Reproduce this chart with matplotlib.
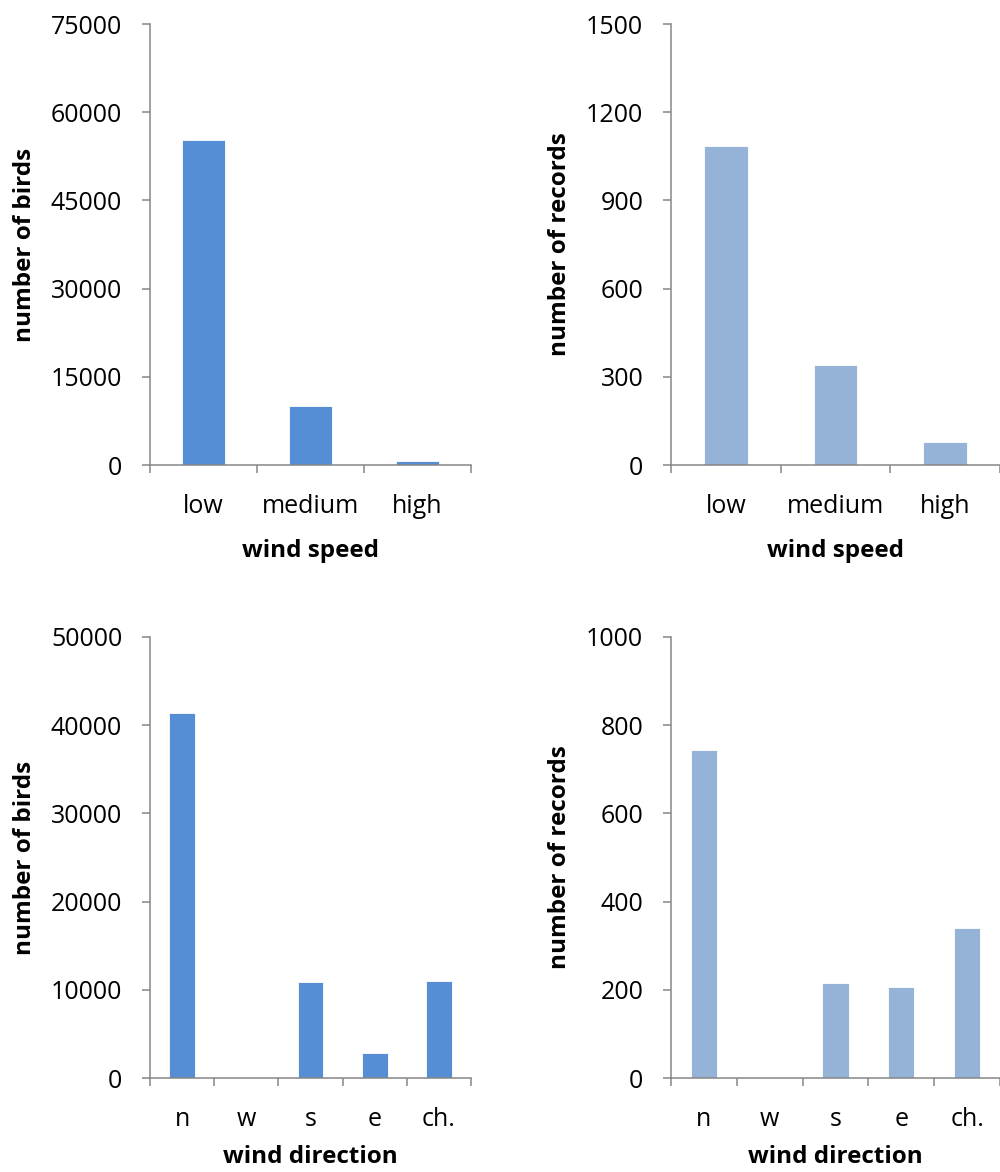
import matplotlib.pyplot as plt
from matplotlib.ticker import FixedLocator

plt.rcParams['font.family'] = ['Open Sans', 'DejaVu Sans']

speed_cats = ["low", "medium", "high"]
speed_birds = [55300, 10000, 750]
speed_records = [1086, 339, 78]

dir_cats = ["n", "w", "s", "e", "ch."]
dir_birds = [41400, 0, 10900, 2800, 11000]
dir_records = [743, 0, 216, 207, 339]

dark_blue = "#558ED5"
light_blue = "#95B3D7"
axis_gray = "#868686"

fig = plt.figure(figsize=(10, 11.72), dpi=100)


def bar_panel(rect, cats, vals, color, ymax, ystep, ylabel, xlabel, xpad):
    ax = fig.add_axes(rect)
    x = range(len(cats))
    ax.bar(x, vals, width=0.4, color=color, edgecolor="white", linewidth=0.6)
    ax.set_xlim(-0.5, len(cats) - 0.5)
    ax.set_ylim(0, ymax)
    ax.set_yticks(range(0, ymax + 1, ystep))
    ax.set_xticks(list(x))
    ax.set_xticklabels(cats)
    # category boundary ticks like Excel
    ax.xaxis.set_minor_locator(FixedLocator([i - 0.5 for i in range(len(cats) + 1)]))
    ax.tick_params(axis="x", which="major", length=0, pad=21, labelsize=18)
    ax.tick_params(axis="x", which="minor", length=6, width=1.1, color=axis_gray, direction="out")
    ax.tick_params(axis="y", length=6, width=1.1, color=axis_gray, direction="out", pad=14, labelsize=18)
    for s in ["top", "right"]:
        ax.spines[s].set_visible(False)
    for s in ["left", "bottom"]:
        ax.spines[s].set_color(axis_gray)
        ax.spines[s].set_linewidth(1.1)
    ax.set_ylabel(ylabel, fontsize=17.5, fontweight="bold", labelpad=10)
    ax.set_xlabel(xlabel, fontsize=17.5, fontweight="bold", labelpad=xpad)
    return ax


bar_panel([0.15, 0.6032, 0.321, 0.3763], speed_cats, speed_birds, dark_blue,
          75000, 15000, "number of birds", "wind speed", 14)
bar_panel([0.671, 0.6032, 0.329, 0.3763], speed_cats, speed_records, light_blue,
          1500, 300, "number of records", "wind speed", 14)
bar_panel([0.15, 0.0802, 0.321, 0.3763], dir_cats, dir_birds, dark_blue,
          50000, 10000, "number of birds", "wind direction", 9)
bar_panel([0.671, 0.0802, 0.329, 0.3763], dir_cats, dir_records, light_blue,
          1000, 200, "number of records", "wind direction", 9)

fig.savefig("out.png", dpi=100, facecolor="white")
